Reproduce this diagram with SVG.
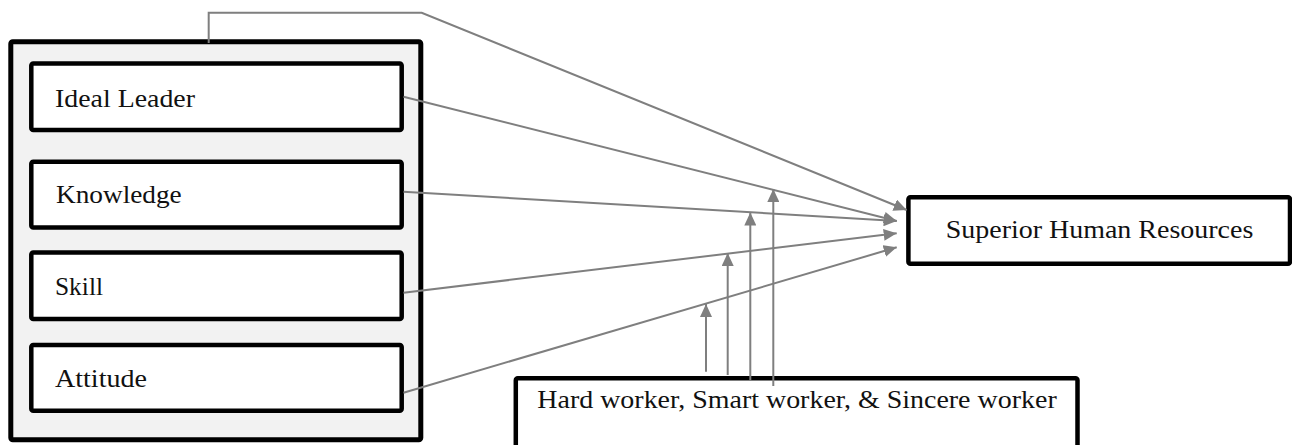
<svg xmlns="http://www.w3.org/2000/svg" width="1292" height="445" viewBox="0 0 1292 445">
  <style>
    .frame { fill: #f2f2f2; stroke: #000; stroke-width: 5; }
    .box { fill: #fff; stroke: #000; stroke-width: 4.5; }
    .label { font-family: "Liberation Serif", "DejaVu Serif", serif; font-size: 26px; fill: #111; }
    .link { fill: none; stroke: #7f7f7f; stroke-width: 2; }
  </style>
  <defs>
    <marker id="arrow" markerUnits="userSpaceOnUse" markerWidth="13" markerHeight="12" refX="13" refY="6" orient="auto">
      <path d="M0,0 L13,6 L0,12 z" fill="#7f7f7f"/>
    </marker>
  </defs>

  <rect width="1292" height="445" fill="#fff"/>

  <!-- Left group frame holding the four factors -->
  <g id="factors">
    <rect class="frame" x="10.8" y="41.8" width="410" height="398" rx="2"/>
  </g>

  <g id="ideal-leader">
    <rect class="box" x="31.3" y="63.5" width="370.4" height="66.5" rx="2"/>
    <text class="label" x="55" y="107.3" textLength="140" lengthAdjust="spacingAndGlyphs">Ideal Leader</text>
  </g>

  <g id="knowledge">
    <rect class="box" x="31.3" y="161.7" width="370.4" height="65.8" rx="2"/>
    <text class="label" x="56" y="203.3" textLength="125.7" lengthAdjust="spacingAndGlyphs">Knowledge</text>
  </g>

  <g id="skill">
    <rect class="box" x="31.3" y="252.5" width="370.4" height="66.5" rx="2"/>
    <text class="label" x="55" y="295" textLength="48" lengthAdjust="spacingAndGlyphs">Skill</text>
  </g>

  <g id="attitude">
    <rect class="box" x="31.3" y="345" width="370.4" height="65.8" rx="2"/>
    <text class="label" x="55" y="386.7" textLength="92" lengthAdjust="spacingAndGlyphs">Attitude</text>
  </g>

  <g id="superior-hr">
    <rect class="box" x="908.4" y="197.2" width="381.6" height="66.6" rx="2"/>
    <text class="label" x="945.7" y="238.3" textLength="307.6" lengthAdjust="spacingAndGlyphs">Superior Human Resources</text>
  </g>

  <g id="worker-traits">
    <rect class="box" x="515.8" y="378.3" width="561.7" height="100" rx="2"/>
    <text class="label" x="537.3" y="407.7" textLength="519.4" lengthAdjust="spacingAndGlyphs">Hard worker, Smart worker, &amp; Sincere worker</text>
  </g>

  <!-- Connectors -->
  <g id="connectors">
    <path class="link" marker-end="url(#arrow)" d="M208.7,43 V12.7 H421.7 L906.7,210"/>
    <path class="link" marker-end="url(#arrow)" d="M403.5,96.7 L896.7,221"/>
    <path class="link" marker-end="url(#arrow)" d="M403.5,191.7 L896.7,221"/>
    <path class="link" marker-end="url(#arrow)" d="M403.5,292.7 L896.7,233.3"/>
    <path class="link" marker-end="url(#arrow)" d="M403.5,392.7 L896.7,247.3"/>
    <path class="link" marker-end="url(#arrow)" d="M706,371.7 V304"/>
    <path class="link" marker-end="url(#arrow)" d="M727.7,375 V253"/>
    <path class="link" marker-end="url(#arrow)" d="M750.3,380 V212.5"/>
    <path class="link" marker-end="url(#arrow)" d="M773.3,386 V189"/>
  </g>
</svg>
